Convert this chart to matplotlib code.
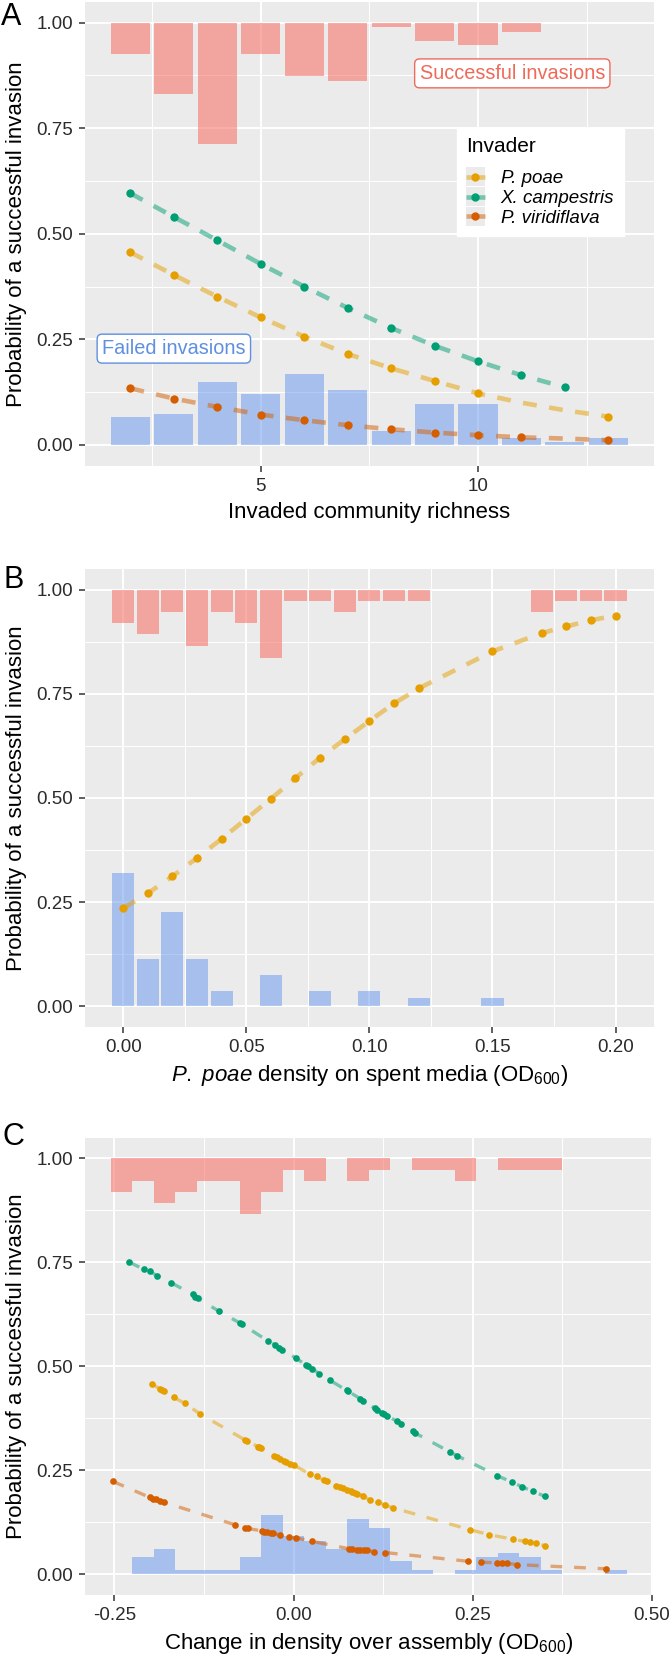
import matplotlib
matplotlib.use('Agg')
import matplotlib.pyplot as plt
import numpy as np
from matplotlib.patches import Rectangle
from matplotlib.lines import Line2D
from matplotlib.legend_handler import HandlerBase
from matplotlib.ticker import FixedLocator

plt.rcParams['font.family'] = ['Liberation Sans', 'DejaVu Sans']
plt.rcParams['mathtext.fontset'] = 'custom'
plt.rcParams['mathtext.rm'] = 'Liberation Sans'
plt.rcParams['mathtext.it'] = 'Liberation Sans:italic'
plt.rcParams['lines.scale_dashes'] = False

# ---------------- data ----------------
species = ['P. poae', 'X. campestris', 'P. viridiflava']
colors = {'P. poae': '#E69F00', 'X. campestris': '#009E73', 'P. viridiflava': '#D55E00'}

# Panel A
richness = [2, 3, 4, 5, 6, 7, 8, 9, 10, 11, 12, 13]
a_success_drop = [0.074, 0.170, 0.287, 0.074, 0.127, 0.138, 0.010, 0.043, 0.052, 0.021, 0.0, 0.0]
a_fail = [0.066, 0.072, 0.148, 0.121, 0.168, 0.130, 0.034, 0.097, 0.097, 0.017, 0.008, 0.017]
a_poae_x = [2, 3, 4, 5, 6, 7, 8, 9, 10, 11, 12, 13]
a_poae = [0.456, 0.4025, 0.351, 0.302, 0.2565, 0.2155, 0.1815, 0.1515, 0.122, 0.100, 0.082, 0.067]
a_poae_pts = [2, 3, 4, 5, 6, 7, 8, 9, 10, 13]
a_camp_x = [2, 3, 4, 5, 6, 7, 8, 9, 10, 11, 12]
a_camp = [0.596, 0.540, 0.4846, 0.4286, 0.375, 0.3244, 0.277, 0.235, 0.198, 0.165, 0.1365]
a_camp_pts = [2, 3, 4, 5, 6, 7, 8, 9, 10, 11, 12]
a_viri_x = [2, 3, 4, 5, 6, 7, 8, 9, 10, 11, 12, 13]
a_viri = [0.134, 0.1097, 0.090, 0.0718, 0.0584, 0.0466, 0.0371, 0.0292, 0.0229, 0.018, 0.015, 0.011]
a_viri_pts = [2, 3, 4, 5, 6, 7, 8, 9, 10, 11, 13]

# Panel B
od_bins = [0.00, 0.01, 0.02, 0.03, 0.04, 0.05, 0.06, 0.07, 0.08, 0.09, 0.10,
           0.11, 0.12, 0.13, 0.14, 0.15, 0.16, 0.17, 0.18, 0.19, 0.20]
b_success_drop = [0.080, 0.107, 0.054, 0.135, 0.054, 0.080, 0.163, 0.028, 0.028, 0.054, 0.028,
                  0.028, 0.028, 0.0, 0.0, 0.0, 0.0, 0.054, 0.028, 0.028, 0.028]
b_fail = [0.320, 0.113, 0.226, 0.113, 0.037, 0.0, 0.075, 0.0, 0.037, 0.0, 0.037,
          0.0, 0.019, 0.0, 0.0, 0.019, 0.0, 0.0, 0.0, 0.0, 0.0]
b_poae_x = [0.00, 0.01, 0.02, 0.03, 0.04, 0.05, 0.06, 0.07, 0.08, 0.09, 0.10, 0.11, 0.12,
            0.15, 0.17, 0.18, 0.19, 0.20]
b_poae = [0.235, 0.271, 0.312, 0.356, 0.402, 0.450, 0.498, 0.548, 0.597, 0.641, 0.685, 0.727, 0.763,
          0.852, 0.896, 0.912, 0.927, 0.938]

# Panel C
c_bins = [-0.24, -0.21, -0.18, -0.15, -0.12, -0.09, -0.06, -0.03, 0.00, 0.03, 0.06, 0.09,
          0.12, 0.15, 0.18, 0.21, 0.24, 0.27, 0.30, 0.33, 0.36, 0.39, 0.42, 0.45]
c_success_drop = [0.080, 0.055, 0.107, 0.080, 0.055, 0.055, 0.134, 0.080, 0.028, 0.055, 0.0, 0.055,
                  0.028, 0.0, 0.028, 0.028, 0.055, 0.0, 0.028, 0.028, 0.028, 0.0, 0.0, 0.0]
c_fail = [0.0, 0.041, 0.061, 0.010, 0.010, 0.010, 0.041, 0.142, 0.091, 0.081, 0.061, 0.132,
          0.112, 0.031, 0.010, 0.0, 0.010, 0.041, 0.051, 0.041, 0.010, 0.0, 0.0, 0.010]
c_camp_x = [-0.230, -0.209, -0.201, -0.190, -0.171, -0.141, -0.137, -0.133, -0.104, -0.075, -0.072,
            -0.035, -0.026, -0.020, -0.016, 0.004, 0.017, 0.020, 0.026, 0.036, 0.051, 0.074, 0.076,
            0.093, 0.097, 0.113, 0.117, 0.123, 0.126, 0.130, 0.144, 0.150, 0.166, 0.169, 0.218,
            0.228, 0.284, 0.305, 0.319, 0.334, 0.351]
c_camp = [0.751, 0.733, 0.729, 0.717, 0.701, 0.673, 0.667, 0.663, 0.632, 0.604, 0.601,
          0.560, 0.552, 0.545, 0.540, 0.519, 0.503, 0.501, 0.494, 0.482, 0.466, 0.442, 0.440,
          0.422, 0.417, 0.399, 0.394, 0.388, 0.384, 0.381, 0.368, 0.362, 0.344, 0.340, 0.294,
          0.285, 0.237, 0.221, 0.210, 0.199, 0.187]
c_poae_x = [-0.197, -0.187, -0.184, -0.181, -0.167, -0.152, -0.131, -0.068, -0.065, -0.050, -0.048,
            -0.045, -0.027, -0.023, -0.019, -0.014, -0.010, -0.005, 0.000, 0.023, 0.032, 0.042,
            0.047, 0.059, 0.065, 0.069, 0.075, 0.080, 0.082, 0.085, 0.089, 0.097, 0.106, 0.118,
            0.128, 0.138, 0.246, 0.273, 0.306, 0.323, 0.330, 0.338, 0.351]
c_poae = [0.457, 0.446, 0.444, 0.440, 0.425, 0.411, 0.386, 0.323, 0.321, 0.307, 0.305,
          0.303, 0.284, 0.282, 0.278, 0.272, 0.269, 0.266, 0.262, 0.241, 0.235, 0.226,
          0.223, 0.213, 0.210, 0.207, 0.203, 0.200, 0.197, 0.195, 0.194, 0.189, 0.178, 0.173,
          0.166, 0.160, 0.107, 0.095, 0.084, 0.079, 0.077, 0.075, 0.068]
c_viri_x = [-0.252, -0.201, -0.196, -0.192, -0.187, -0.181, -0.082, -0.068, -0.064, -0.044, -0.041,
            -0.037, -0.032, -0.029, -0.019, -0.007, 0.004, 0.026, 0.078, 0.082, 0.088, 0.093,
            0.098, 0.102, 0.112, 0.128, 0.244, 0.262, 0.284, 0.291, 0.298, 0.312, 0.436]
c_viri = [0.223, 0.185, 0.182, 0.180, 0.177, 0.173, 0.119, 0.112, 0.110, 0.104, 0.102,
          0.101, 0.099, 0.098, 0.094, 0.090, 0.087, 0.079, 0.061, 0.060, 0.059, 0.058,
          0.057, 0.057, 0.054, 0.052, 0.031, 0.029, 0.027, 0.027, 0.026, 0.023, 0.013]

# ---------------- figure ----------------
W, H = 672, 1663
fig = plt.figure(figsize=(W / 100, H / 100), dpi=100)
fig.patch.set_facecolor('white')


def add_ax(left, top, right, bottom):
    return fig.add_axes([left / W, 1 - bottom / H, (right - left) / W, (bottom - top) / H])


RED = '#F8766D'
BLUE = '#6495ED'
TICKC = '#2b2b2b'


def style(ax, xmaj, xmin, xlabels):
    ax.set_facecolor('#EBEBEB')
    for s in ax.spines.values():
        s.set_visible(False)
    ax.set_axisbelow(True)
    ax.xaxis.set_major_locator(FixedLocator(xmaj))
    ax.xaxis.set_minor_locator(FixedLocator(xmin))
    ax.yaxis.set_major_locator(FixedLocator([0, 0.25, 0.5, 0.75, 1.0]))
    ax.yaxis.set_minor_locator(FixedLocator([0.125, 0.375, 0.625, 0.875]))
    ax.set_xticklabels(xlabels)
    ax.set_yticklabels(['0.00', '0.25', '0.50', '0.75', '1.00'])
    ax.grid(which='major', color='white', lw=1.4)
    ax.grid(which='minor', color='white', lw=0.7)
    ax.tick_params(which='major', length=4.5, width=1.1, color='#333333',
                   labelsize=13.5, labelcolor=TICKC, pad=4)
    ax.tick_params(which='minor', length=0)
    ax.set_ylim(-0.05, 1.05)
    ax.set_ylabel('Probability of a successful invasion', fontsize=16)
    ax.yaxis.set_label_coords(-0.102, 0.5)


# ---- Panel A ----
axA = add_ax(85, 1.6, 653.7, 466)
style(axA, [5, 10], [2.5, 7.5, 12.5], ['5', '10'])
axA.set_xlim(0.955, 14.045)
axA.bar(richness, [-d for d in a_success_drop], bottom=1.0, width=0.9, color=RED, alpha=0.6, lw=0, zorder=2)
axA.bar(richness, a_fail, width=0.9, color=BLUE, alpha=0.5, lw=0, zorder=2)
for name, xs, ys, pts in [('P. poae', a_poae_x, a_poae, a_poae_pts),
                          ('X. campestris', a_camp_x, a_camp, a_camp_pts),
                          ('P. viridiflava', a_viri_x, a_viri, a_viri_pts)]:
    c = colors[name]
    axA.plot(xs, ys, color=c, lw=3.3, alpha=0.5, dashes=(10, 9), solid_capstyle='butt',
             dash_capstyle='butt', zorder=3)
    py = [ys[xs.index(p)] for p in pts]
    axA.plot(pts, py, 'o', color=c, ms=6, mec='none', zorder=4)
axA.set_xlabel('Invaded community richness', fontsize=16, labelpad=5)
axA.text(10.79, 0.880, 'Successful invasions', fontsize=14.3, color='#EE6A5A', ha='center', va='center',
         bbox=dict(boxstyle='round,pad=0.25,rounding_size=0.25', fc='white', ec='#EE6A5A', lw=1.0), zorder=6)
axA.text(3.0, 0.228, 'Failed invasions', fontsize=14.3, color='#5E8FE0', ha='center', va='center',
         bbox=dict(boxstyle='round,pad=0.25,rounding_size=0.25', fc='white', ec='#5E8FE0', lw=1.0), zorder=6)


class KeyHandler(HandlerBase):
    def create_artists(self, legend, orig_handle, xdescent, ydescent, width, height, fontsize, trans):
        c = orig_handle.get_color()
        bg = Rectangle((-xdescent, -ydescent), width, height, fc='#EBEBEB', ec='none', transform=trans)
        yc = -ydescent + height / 2
        ln = Line2D([-xdescent, -xdescent + width], [yc, yc], color=c, lw=3.3, alpha=0.5,
                    solid_capstyle='butt', transform=trans)
        mk = Line2D([-xdescent + width / 2], [yc], marker='o', ms=6, color=c, mec='none',
                    ls='none', transform=trans)
        return [bg, ln, mk]


handles = [Line2D([], [], color=colors[s]) for s in species]
leg = axA.legend(handles, species, loc='upper left', bbox_to_anchor=(0.6536, 0.7278),
                 borderaxespad=0, frameon=True, fancybox=False, framealpha=1, edgecolor='white',
                 prop={'size': 13.5, 'style': 'italic'}, title='Invader',
                 title_fontproperties={'size': 15}, alignment='left',
                 handler_map={Line2D: KeyHandler()}, handlelength=1.0, handleheight=1.16,
                 labelspacing=0.0, handletextpad=0.85, borderpad=0.5)
leg._legend_box.sep = 8
leg.set_zorder(7)

# ---- Panel B ----
axB = add_ax(85, 569, 653.7, 1027)
style(axB, [0, 0.05, 0.10, 0.15, 0.20], [0.025, 0.075, 0.125, 0.175],
      ['0.00', '0.05', '0.10', '0.15', '0.20'])
axB.set_xlim(-0.0155, 0.2155)
axB.bar(od_bins, [-d for d in b_success_drop], bottom=1.0, width=0.009, color=RED, alpha=0.6, lw=0, zorder=2)
axB.bar(od_bins, b_fail, width=0.009, color=BLUE, alpha=0.5, lw=0, zorder=2)
axB.plot(b_poae_x, b_poae, color=colors['P. poae'], lw=3.3, alpha=0.5, dashes=(10, 9),
         dash_capstyle='butt', zorder=3)
axB.plot(b_poae_x, b_poae, 'o', color=colors['P. poae'], ms=6, mec='none', zorder=4)
axB.set_xlabel(r'$\mathit{P.}$ $\mathit{poae}$ density on spent media (OD$_{600}$)', fontsize=16, labelpad=5)

# ---- Panel C ----
axC = add_ax(85, 1137.5, 652.7, 1595)
style(axC, [-0.25, 0, 0.25, 0.5], [-0.125, 0.125, 0.375], ['-0.25', '0.00', '0.25', '0.50'])
axC.set_xlim(-0.291, 0.501)
axC.bar(c_bins, [-d for d in c_success_drop], bottom=1.0, width=0.03, color=RED, alpha=0.6, lw=0, zorder=2)
axC.bar(c_bins, c_fail, width=0.03, color=BLUE, alpha=0.5, lw=0, zorder=2)
for name, xs, ys in [('X. campestris', c_camp_x, c_camp), ('P. poae', c_poae_x, c_poae),
                     ('P. viridiflava', c_viri_x, c_viri)]:
    c = colors[name]
    axC.plot(xs, ys, color=c, lw=2.4, alpha=0.5, dashes=(8.5, 8.5), dash_capstyle='butt', zorder=3)
    axC.plot(xs, ys, 'o', color=c, ms=4.8, mec='none', zorder=4)
axC.set_xlabel('Change in density over assembly (OD$_{600}$)', fontsize=16, labelpad=5)

# panel letters
fig.text(1 / W, 1 - 25 / H, 'A', fontsize=22, ha='left', va='baseline')
fig.text(3 / W, 1 - 588 / H, 'B', fontsize=22, ha='left', va='baseline')
fig.text(2 / W, 1 - 1145 / H, 'C', fontsize=22, ha='left', va='baseline')

fig.savefig('out.png', dpi=100, facecolor='white')
